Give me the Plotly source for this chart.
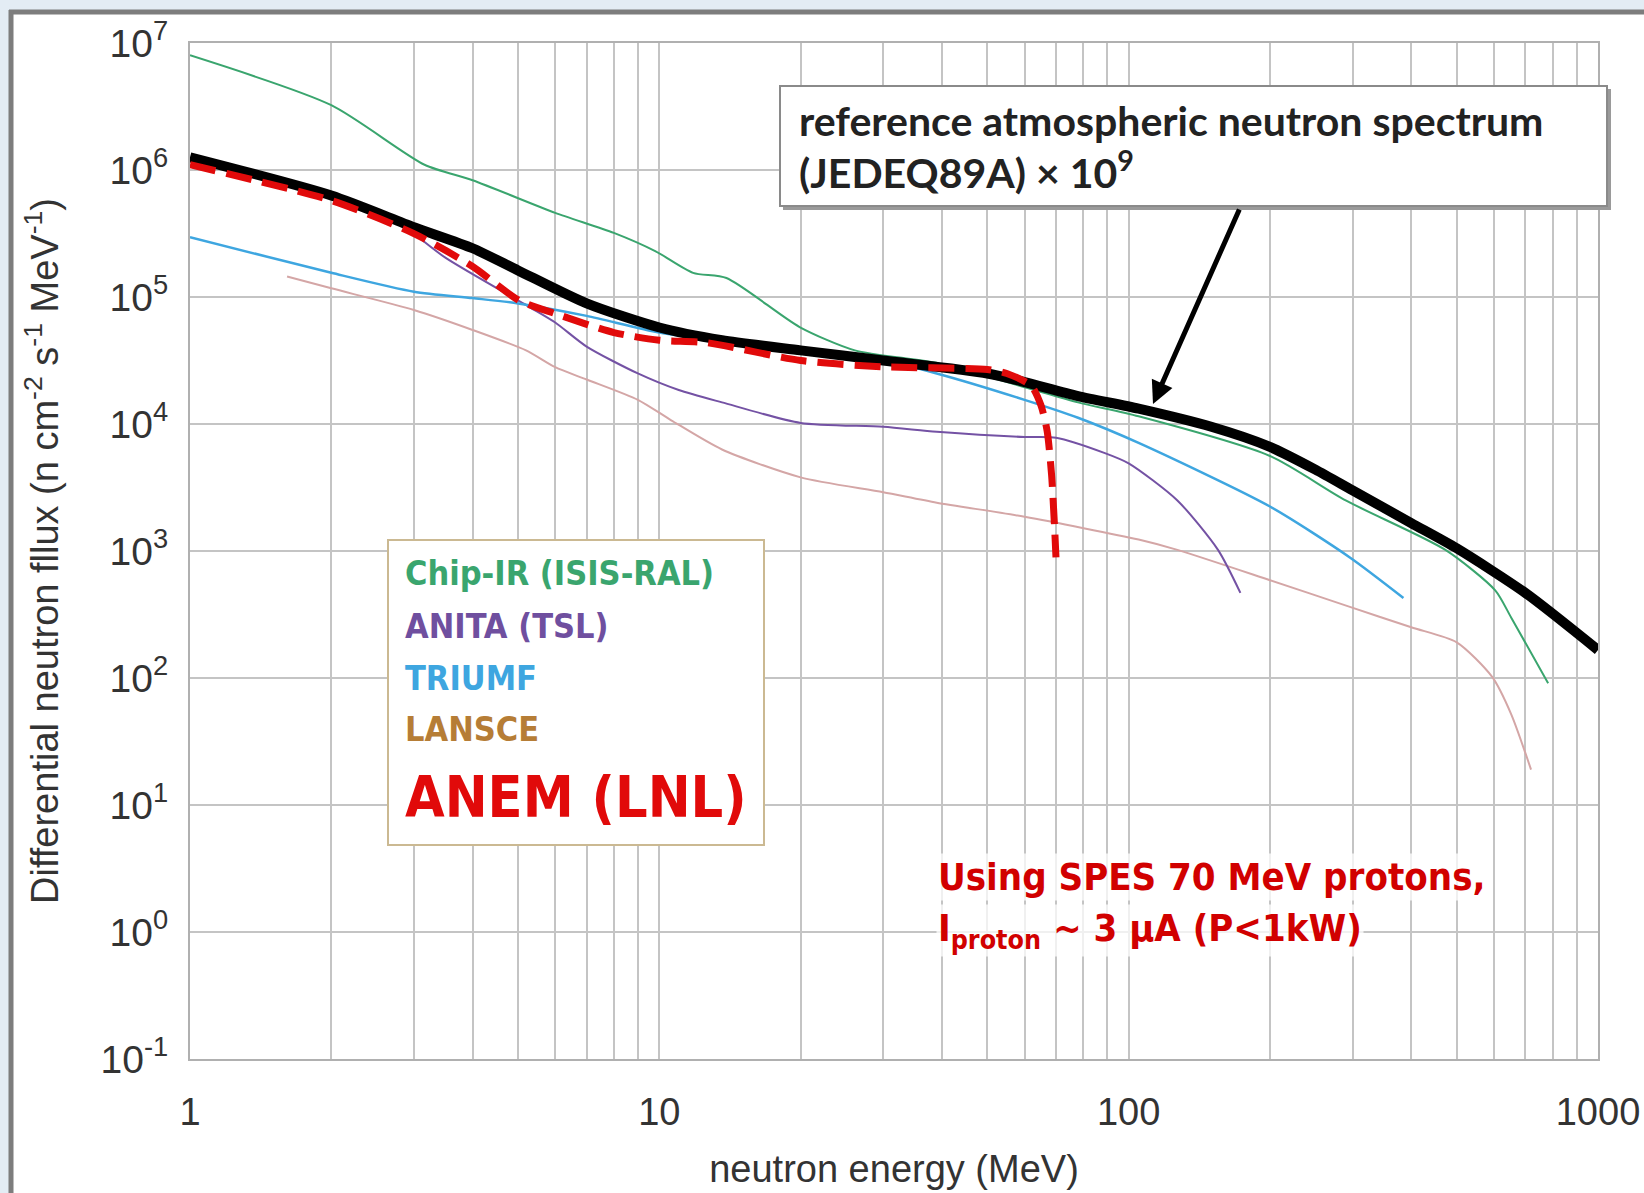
import plotly.graph_objects as go

# ---------------- data ----------------
energy_chipir = [1, 2, 3.16, 4, 6, 8, 9.8, 11.8, 13.9, 19.9, 26.1, 39.4, 60, 78, 105, 200, 290, 473, 604, 653, 783]
flux_chipir = [8.0e6, 3.24e6, 1.10e6, 8.3e5, 4.6e5, 3.2e5, 2.3e5, 1.55e5, 1.41e5, 5.8e4, 3.8e4, 3.0e4,
               1.95e4, 1.48e4, 1.15e4, 5.6e3, 2.5e3, 1.02e3, 490, 300, 91]

energy_anita = [3, 3.5, 5.3, 6, 7, 9, 11, 13.6, 20, 30, 39, 60, 70, 89, 100, 127, 155, 173]
flux_anita = [3.16e5, 2.04e5, 8.3e4, 6.3e4, 4.07e4, 2.5e4, 1.85e4, 1.48e4, 1.02e4, 9.5e3, 8.7e3,
              7.9e3, 7.8e3, 5.9e3, 4.9e3, 2.5e3, 1.02e3, 468]

energy_triumf = [1, 2, 3, 4, 5, 7, 10, 15, 20, 30, 39, 60, 78, 105, 200, 296, 385]
flux_triumf = [2.95e5, 1.55e5, 1.1e5, 9.8e4, 8.9e4, 7.1e4, 5.25e4, 4.27e4, 3.7e4, 3.16e4, 2.5e4,
               1.55e4, 1.12e4, 7.1e3, 2.24e3, 890, 427]

energy_lansce = [1.61, 2, 3, 4, 5.2, 6, 7, 9, 10.6, 13.6, 20, 30, 39, 60, 105, 127, 200, 296, 400,
                 500, 595, 653, 720]
flux_lansce = [1.45e5, 1.17e5, 7.9e4, 5.5e4, 3.8e4, 2.8e4, 2.24e4, 1.55e4, 1.07e4, 6.3e3, 3.8e3,
               2.9e3, 2.4e3, 1.86e3, 1.23e3, 1.02e3, 589, 363, 251, 191, 102, 52, 19]

energy_jedec = [1, 2, 3, 4, 5, 7, 10, 13.6, 20, 30, 50, 60, 78, 105, 150, 200, 250, 300, 400, 500, 700, 1000]
flux_jedec = [1.26e6, 6.3e5, 3.55e5, 2.42e5, 1.62e5, 8.9e4, 5.75e4, 4.57e4, 3.8e4, 3.16e4, 2.5e4,
              2.14e4, 1.66e4, 1.32e4, 9.5e3, 6.6e3, 4.37e3, 3.0e3, 1.66e3, 1.05e3, 468, 166]

energy_anem = [1, 2, 3, 4, 5, 6, 8, 10, 12.6, 20, 30, 50, 55, 62, 65, 67, 68.5, 69.5, 70]
flux_anem = [1.1e6, 5.75e5, 3.16e5, 1.74e5, 9.5e4, 7.4e4, 5.25e4, 4.57e4, 4.37e4, 3.16e4, 2.82e4,
             2.69e4, 2.5e4, 2.0e4, 1.41e4, 8.9e3, 4.0e3, 1.58e3, 890]

x_tick_vals = [1, 10, 100, 1000]
x_tick_text = ["1", "10", "100", "1000"]
x_minor_vals = [2, 3, 4, 5, 6, 7, 8, 9, 20, 30, 40, 50, 60, 70, 80, 90, 200, 300, 400, 500, 600, 700, 800, 900]
y_tick_vals = [0.1, 1, 10, 100, 1e3, 1e4, 1e5, 1e6, 1e7]
y_tick_text = ["10<sup>-1</sup>", "10<sup>0</sup>", "10<sup>1</sup>", "10<sup>2</sup>", "10<sup>3</sup>",
               "10<sup>4</sup>", "10<sup>5</sup>", "10<sup>6</sup>", "10<sup>7</sup>"]

legend_labels = ["Chip-IR (ISIS-RAL)", "ANITA (TSL)", "TRIUMF", "LANSCE", "ANEM (LNL)"]

# ---------------- layout helpers (pixel -> paper) ----------------
W, H = 1644, 1193
L, R, T, B = 190, 1598, 43, 1059


def px(x):
    return (x - L) / (R - L)


def py(y):
    return (B - y) / (B - T)


fig = go.Figure()

line_specs = [
    (energy_lansce, flux_lansce, "LANSCE", dict(color="#d4a6a6", width=2)),
    (energy_anita, flux_anita, "ANITA (TSL)", dict(color="#7452a4", width=2)),
    (energy_triumf, flux_triumf, "TRIUMF", dict(color="#3ea6e0", width=2.5)),
    (energy_chipir, flux_chipir, "Chip-IR (ISIS-RAL)", dict(color="#3aa56e", width=2)),
    (energy_jedec, flux_jedec, "JEDEQ89A x 1e9", dict(color="#000000", width=10)),
    (energy_anem, flux_anem, "ANEM (LNL)", dict(color="#e10a0a", width=7, dash="26px,11px")),
]
for xs, ys, name, ln in line_specs:
    ln = dict(ln, shape="spline", smoothing=0.7)
    fig.add_trace(go.Scatter(x=xs, y=ys, mode="lines", name=name, line=ln,
                             showlegend=False, hoverinfo="skip"))

grid_col = "#c4c4c4"
fig.update_xaxes(type="log", range=[0, 3], tickvals=x_tick_vals, ticktext=x_tick_text,
                 showgrid=True, gridcolor=grid_col, gridwidth=2, automargin=False,
                 minor=dict(tickvals=x_minor_vals, showgrid=True, gridcolor=grid_col, gridwidth=2, ticks=""),
                 showline=True, linecolor="#b0b0b0", linewidth=2, mirror=True, ticks="",
                 ticklabelstandoff=18,
                 tickfont=dict(family="Liberation Sans, Arial", size=38, color="#333333"),
                 title=dict(text="neutron energy (MeV)", standoff=24,
                            font=dict(family="Liberation Sans, Arial", size=38, color="#333333")),
                 zeroline=False)
fig.update_yaxes(type="log", range=[-1, 7], tickvals=y_tick_vals, ticktext=y_tick_text,
                 showgrid=True, gridcolor=grid_col, gridwidth=2, automargin=False,
                 showline=True, linecolor="#b0b0b0", linewidth=2, mirror=True, ticks="",
                 ticklabelstandoff=12,
                 tickfont=dict(family="Liberation Sans, Arial", size=39, color="#333333"),
                 title=dict(text="Differential neutron fllux (n cm<sup>-2</sup> s<sup>-1</sup> MeV<sup>-1</sup>)",
                            standoff=30,
                            font=dict(family="Liberation Sans, Arial", size=38, color="#333333")),
                 zeroline=False)

shapes = []
# page frame: white sheet with grey border on top/left
shapes.append(dict(type="rect", xref="paper", yref="paper", layer="below",
                   x0=px(12), x1=px(W + 5), y0=py(13), y1=py(H + 5),
                   fillcolor="white", line=dict(width=0)))
shapes.append(dict(type="line", xref="paper", yref="paper", layer="below",
                   x0=px(9), x1=px(W + 5), y0=py(12), y1=py(12), line=dict(color="#7d7d7d", width=5)))
shapes.append(dict(type="line", xref="paper", yref="paper", layer="below",
                   x0=px(11), x1=px(11), y0=py(10), y1=py(H + 5), line=dict(color="#7d7d7d", width=5)))
# callout box with slight shadow
shapes.append(dict(type="rect", xref="paper", yref="paper",
                   x0=px(783), x1=px(1611), y0=py(89), y1=py(210),
                   fillcolor="#9a9a9a", line=dict(width=0)))
shapes.append(dict(type="rect", xref="paper", yref="paper",
                   x0=px(780), x1=px(1607), y0=py(86), y1=py(206),
                   fillcolor="white", line=dict(color="#8a8a8a", width=2)))
# legend box
shapes.append(dict(type="rect", xref="paper", yref="paper",
                   x0=px(388), x1=px(764), y0=py(540), y1=py(845),
                   fillcolor="white", line=dict(color="#cbb992", width=2)))

annotations = []
# callout text
annotations.append(dict(xref="paper", yref="paper", x=px(797), y=py(121), xanchor="left", yanchor="middle",
                        showarrow=False, text="<b>reference atmospheric neutron spectrum</b>",
                        font=dict(family="Lato, Open Sans", size=41, color="#222222")))
annotations.append(dict(xref="paper", yref="paper", x=px(797), y=py(170), xanchor="left", yanchor="middle",
                        showarrow=False, text="<b>(JEDEQ89A) × 10<sup>9</sup></b>",
                        font=dict(family="Lato, Open Sans", size=41, color="#222222")))
# arrow
annotations.append(dict(xref="paper", yref="paper", x=px(1153), y=py(404), ax=87, ay=-196,
                        axref="pixel", ayref="pixel", showarrow=True, text="",
                        arrowhead=2, arrowsize=0.9, arrowwidth=5, arrowcolor="#000000"))
# legend texts
leg_colors = ["#3aa56e", "#6f4f9f", "#3ea6e0", "#b67d36", "#e10a0a"]
leg_y = [573, 626, 678, 729, 797]
leg_size = [34, 34, 34, 34, 57]
for lab, col, yy, sz in zip(legend_labels, leg_colors, leg_y, leg_size):
    annotations.append(dict(xref="paper", yref="paper", x=px(403), y=py(yy), xanchor="left", yanchor="middle",
                            showarrow=False, text="<b>" + lab + "</b>",
                            font=dict(family="DejaVu Sans Condensed, Open Sans", size=sz, color=col)))
# red annotation
annotations.append(dict(xref="paper", yref="paper", x=px(936), y=py(877), xanchor="left", yanchor="middle",
                        showarrow=False, text="<b>Using SPES 70 MeV protons,</b>",
                        bgcolor="rgba(255,255,255,0.75)",
                        font=dict(family="DejaVu Sans Condensed, Open Sans", size=38, color="#d10000")))
annotations.append(dict(xref="paper", yref="paper", x=px(936), y=py(930), xanchor="left", yanchor="middle",
                        showarrow=False, text="<b>I<sub>proton</sub> ~ 3 μA (P&lt;1kW)</b>",
                        bgcolor="rgba(255,255,255,0.75)",
                        font=dict(family="DejaVu Sans Condensed, Open Sans", size=38, color="#d10000")))

fig.update_layout(width=W, height=H, margin=dict(l=L, r=W - R, t=T, b=H - B, autoexpand=False),
                  paper_bgcolor="#e3ecf4", plot_bgcolor="white",
                  shapes=shapes, annotations=annotations, showlegend=False)

fig.write_html("out.html")
